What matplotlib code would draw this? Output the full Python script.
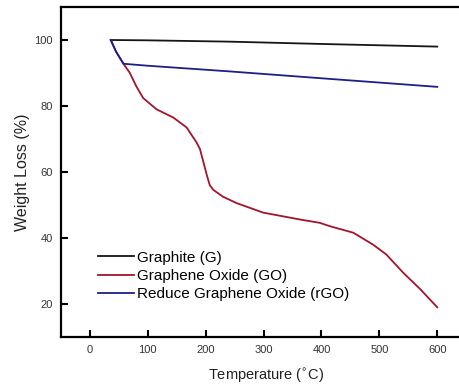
import matplotlib
matplotlib.use('Agg')
import matplotlib.pyplot as plt

# TGA curves
g_temp = [36, 100, 241, 400, 600]
g_wt = [100, 99.9, 99.5, 98.8, 98.0]

go_temp = [36, 45, 57, 69, 80, 92, 115, 144, 167, 184, 190, 196, 202, 207,
           213, 230, 253, 299, 363, 397, 414, 455, 489, 512, 541, 570, 600]
go_wt = [100, 96.5, 93, 90, 86, 82.4, 79, 76.5, 73.5, 69, 67, 63, 59, 56,
         54.6, 52.5, 50.6, 47.7, 45.6, 44.6, 43.6, 41.6, 38, 35, 29.5, 24.6, 19]

rgo_temp = [36, 45, 58, 100, 240, 400, 600]
rgo_wt = [100, 96.5, 92.8, 92.2, 90.5, 88.4, 85.8]

labels = ['Graphite (G)', 'Graphene Oxide (GO)', 'Reduce Graphene Oxide (rGO)']
colors = ['#151515', '#a3142c', '#1e1e8a']

xticks = [0, 100, 200, 300, 400, 500, 600]
yticks = [20, 40, 60, 80, 100]

plt.rcParams['font.family'] = ['Liberation Sans', 'DejaVu Sans']

fig = plt.figure(figsize=(4.6, 3.88), dpi=100)
ax = fig.add_axes([61 / 460, 51 / 388, 411 / 460, 330 / 388])

series = [(g_temp, g_wt), (go_temp, go_wt), (rgo_temp, rgo_wt)]
for (t, w), lab, c in zip(series, labels, colors):
    ax.plot(t, w, color=c, lw=1.3, label=lab)

ax.set_xlim(-50, 660)
ax.set_ylim(10, 110)
ax.set_xticks(xticks)
ax.set_yticks(yticks)
ax.tick_params(direction='in', length=5, width=1.5, labelsize=8,
               labelcolor='#333333', pad=6)
for s in ax.spines.values():
    s.set_linewidth(1.6)
# the reference is cropped before the right edge of the frame
ax.spines['right'].set_visible(False)

ax.set_xlabel('Temperature ($^{\\circ}$C)', fontsize=10.5, color='#222222', labelpad=8)
ax.set_ylabel('Weight Loss (%)', fontsize=11.5, color='#222222', labelpad=3)

ax.legend(loc='lower left', bbox_to_anchor=(0.089, 0.108), frameon=False,
          fontsize=11, handlelength=2.4, handletextpad=0.15,
          labelspacing=0.28, borderpad=0, borderaxespad=0)

fig.savefig('out.png', dpi=100)
